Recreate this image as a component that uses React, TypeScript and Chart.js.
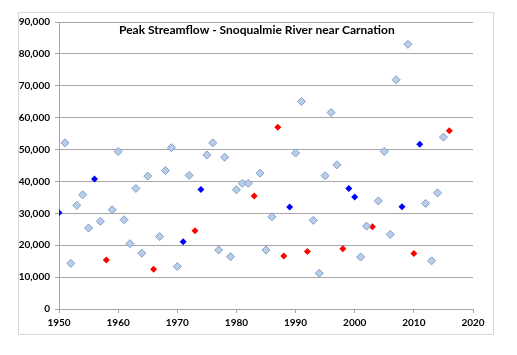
import React, { useEffect, useRef } from "react";
import { Chart, registerables } from "chart.js";

Chart.register(...registerables);

// Light-blue diamonds (regular years)
const plainYears = [1951, 1952, 1953, 1954, 1955, 1957, 1959, 1960, 1961, 1962, 1963, 1964, 1965, 1967, 1968, 1969, 1970, 1972, 1975, 1976, 1977, 1978, 1979, 1980, 1981, 1982, 1984, 1985, 1986, 1990, 1991, 1993, 1994, 1995, 1996, 1997, 2001, 2002, 2004, 2005, 2006, 2007, 2009, 2012, 2013, 2014, 2015];
const plainFlows = [52100, 14300, 32500, 35800, 25400, 27500, 31100, 49400, 28000, 20500, 37800, 17500, 41700, 22700, 43400, 50600, 13300, 41900, 48300, 52100, 18500, 47600, 16400, 37400, 39400, 39400, 42600, 18500, 28900, 48900, 65100, 27800, 11200, 41800, 61600, 45200, 16300, 26000, 33900, 49400, 23400, 71900, 83000, 33100, 15100, 36400, 53900];

// Blue filled diamonds
const blueYears = [1950, 1956, 1971, 1974, 1989, 1999, 2000, 2008, 2011];
const blueFlows = [30200, 40800, 21100, 37500, 32000, 37800, 35100, 32100, 51700];

// Red filled diamonds
const redYears = [1958, 1966, 1973, 1983, 1987, 1988, 1992, 1998, 2003, 2010, 2016];
const redFlows = [15400, 12500, 24500, 35400, 57000, 16600, 18000, 18900, 25800, 17400, 55900];

const xTicks = [1950, 1960, 1970, 1980, 1990, 2000, 2010, 2020];
const yTicks = [0, 10000, 20000, 30000, 40000, 50000, 60000, 70000, 80000, 90000];

const chartTitle = "Peak Streamflow - Snoqualmie River near Carnation";

const toPoints = (xs: number[], ys: number[]) => xs.map((x, i) => ({ x, y: ys[i] }));

const FONT = "Lato, 'Open Sans', 'DejaVu Sans', sans-serif";

const framePlugin = {
  id: "frame",
  beforeDraw(chart: any) {
    const ctx = chart.ctx;
    ctx.save();
    ctx.fillStyle = "#ffffff";
    ctx.fillRect(0, 0, chart.width, chart.height);
    ctx.strokeStyle = "#d9d9d9";
    ctx.lineWidth = 1;
    ctx.strokeRect(18.5, 12.5, 475, 322);
    ctx.restore();
  },
  afterDraw(chart: any) {
    const ctx = chart.ctx;
    const a = chart.chartArea;
    ctx.save();
    ctx.font = `bold 12px ${FONT}`;
    ctx.fillStyle = "#000000";
    ctx.textAlign = "left";
    ctx.textBaseline = "alphabetic";
    ctx.fillText(chartTitle, a.left + 60, a.top + 12);
    ctx.restore();
  },
};

export default function App() {
  const ref = useRef<HTMLCanvasElement | null>(null);

  useEffect(() => {
    if (!ref.current) return;
    const chart = new Chart(ref.current, {
      type: "scatter",
      data: {
        datasets: [
          {
            label: "Peak flow",
            data: toPoints(plainYears, plainFlows),
            pointStyle: "rectRot",
            pointRadius: 4,
            backgroundColor: "#b9cde5",
            borderColor: "#7f9ed0",
            borderWidth: 1,
          },
          {
            label: "Blue years",
            data: toPoints(blueYears, blueFlows),
            pointStyle: "rectRot",
            pointRadius: 3.5,
            backgroundColor: "#0000ff",
            borderColor: "#0000ff",
            borderWidth: 0,
          },
          {
            label: "Red years",
            data: toPoints(redYears, redFlows),
            pointStyle: "rectRot",
            pointRadius: 3.5,
            backgroundColor: "#ff0000",
            borderColor: "#ff0000",
            borderWidth: 0,
          },
        ],
      },
      options: {
        animation: false,
        responsive: false,
        maintainAspectRatio: false,
        layout: { padding: { left: 0, top: 22, right: 44, bottom: 20 } },
        plugins: {
          legend: { display: false },
          tooltip: { enabled: false },
          title: { display: false },
        },
        scales: {
          x: {
            type: "linear",
            min: 1950,
            max: 2020,
            afterFit: (s: any) => {
              s.height = 26;
            },
            afterBuildTicks: (s: any) => {
              s.ticks = xTicks.map((v) => ({ value: v }));
            },
            ticks: {
              callback: (v: any) => String(v),
              font: { family: FONT, size: 10, weight: "bold" },
              color: "#000000",
              padding: 4,
              maxRotation: 0,
            },
            grid: {
              drawOnChartArea: false,
              drawTicks: true,
              tickLength: 4,
              color: "#a6a6a6",
            },
            border: { color: "#a6a6a6", width: 1 },
          },
          y: {
            min: 0,
            max: 90000,
            afterFit: (s: any) => {
              s.width = 59;
            },
            afterBuildTicks: (s: any) => {
              s.ticks = yTicks.map((v) => ({ value: v }));
            },
            ticks: {
              callback: (v: any) => Number(v).toLocaleString("en-US"),
              font: { family: FONT, size: 10, weight: "bold" },
              color: "#000000",
              padding: 5,
            },
            grid: {
              drawTicks: true,
              tickLength: 4,
              color: "#a6a6a6",
            },
            border: { color: "#a6a6a6", width: 1 },
          },
        },
      },
      plugins: [framePlugin],
    });
    return () => chart.destroy();
  }, []);

  return (
    <div style={{ position: "fixed", left: 0, top: 0, width: 517, height: 355 }}>
      <canvas ref={ref} width={517} height={355} style={{ width: 517, height: 355 }} />
    </div>
  );
}
